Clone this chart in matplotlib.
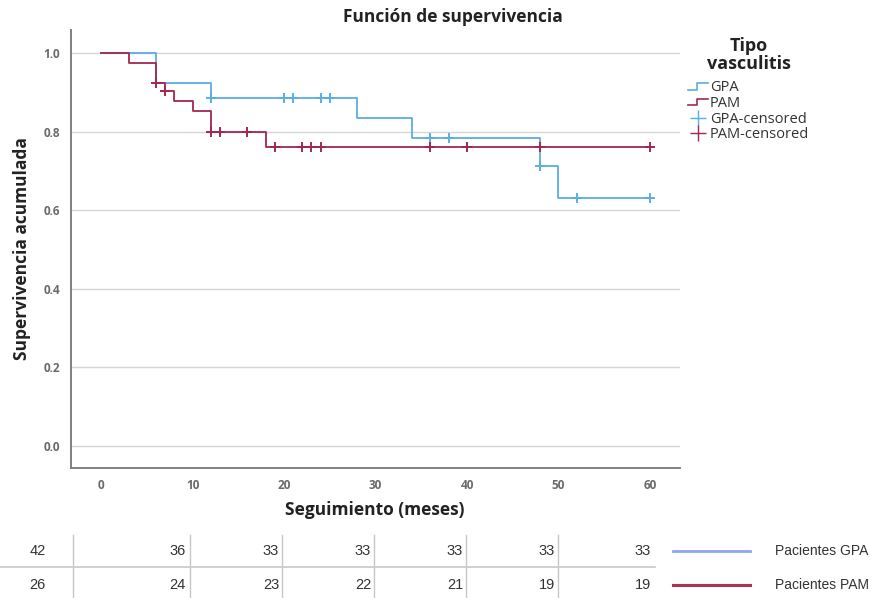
import numpy as np
import matplotlib
matplotlib.use("Agg")
import matplotlib.pyplot as plt
from matplotlib.lines import Line2D
from matplotlib.legend_handler import HandlerBase

# ---------------- data ----------------
gpa_times = [0, 6, 12, 28, 34, 48, 50, 60]
gpa_surv = [1.0, 0.925, 0.885, 0.834, 0.783, 0.712, 0.632, 0.632]
gpa_cens = [12, 20, 21, 24, 25, 36, 38, 48, 52, 60]

pam_times = [0, 3, 6, 7, 8, 10, 12, 18, 60]
pam_surv = [1.0, 0.976, 0.925, 0.903, 0.878, 0.852, 0.80, 0.762, 0.762]
pam_cens = [6, 7, 12, 13, 16, 19, 22, 23, 24, 36, 40, 48, 60]

table_cols = [0, 10, 20, 30, 40, 50, 60]
risk_gpa = [42, 36, 33, 33, 33, 33, 33]
risk_pam = [26, 24, 23, 22, 21, 19, 19]

series_names = ["GPA", "PAM"]
yticks = [0.0, 0.2, 0.4, 0.6, 0.8, 1.0]
xticks = [0, 10, 20, 30, 40, 50, 60]

# ---------------- style ----------------
BLUE = "#5aaee6"
RED = "#a3284f"
TBLUE = "#8ea6ea"
TRED = "#b0304f"
FONT = ["Open Sans", "DejaVu Sans"]
NARROW = ["Liberation Sans Narrow", "Liberation Sans", "DejaVu Sans"]
plt.rcParams["font.family"] = FONT


def step_value(times, surv, t):
    idx = np.searchsorted(times, t, side="right") - 1
    return surv[idx]


fig = plt.figure(figsize=(8.75, 5.98), dpi=100)
ax = fig.add_axes([71 / 875, 1 - 468 / 598, (680 - 71) / 875, (468 - 30) / 598])
ax.set_xlim(-3.3, 63.3)
ax.set_ylim(-0.056, 1.059)

for y in yticks:
    ax.axhline(y, color="#d6d6d6", lw=1.0, zorder=0)

for times, surv, cens, col in [(gpa_times, gpa_surv, gpa_cens, BLUE),
                                (pam_times, pam_surv, pam_cens, RED)]:
    ax.step(times, surv, where="post", color=col, lw=1.3, zorder=2)
    cy = [step_value(times, surv, t) for t in cens]
    ax.plot(cens, cy, linestyle="none", marker="+", color=col,
            markersize=6.5, markeredgewidth=1.4, zorder=3)

for s in ["top", "right"]:
    ax.spines[s].set_visible(False)
for s in ["left", "bottom"]:
    ax.spines[s].set_color("#808080")
    ax.spines[s].set_linewidth(1.4)

ax.set_xticks(xticks)
ax.set_yticks(yticks)
ax.set_yticklabels([f"{v:.1f}" for v in yticks])
ax.tick_params(length=0, labelsize=8.5, colors="#6a6a6a", pad=8)
for lab in ax.get_xticklabels() + ax.get_yticklabels():
    lab.set_fontweight("bold")

fig.text(453 / 875, 1 - 17 / 598, "Función de supervivencia", ha="center",
         va="center", fontsize=12.5, fontweight="bold", color="#222222")
ax.set_ylabel("Supervivencia acumulada", fontsize=12.5, fontweight="bold",
              color="#222222", labelpad=9)
fig.text(375 / 875, 1 - 510 / 598, "Seguimiento (meses)", ha="center",
         va="center", fontsize=12.5, fontweight="bold", color="#222222")


# legend with step icons
class StepHandler(HandlerBase):
    def create_artists(self, legend, orig_handle, xdescent, ydescent,
                       width, height, fontsize, trans):
        w = width
        h = height
        xs = [0 - xdescent, 0.45 * w, 0.45 * w, w * 0.95]
        ys = [0.15 * h, 0.15 * h, 0.75 * h, 0.75 * h]
        ln = Line2D(xs, ys, color=orig_handle.get_color(), lw=1.2,
                    transform=trans)
        return [ln]


h_gpa = Line2D([], [], color=BLUE)
h_pam = Line2D([], [], color=RED)
h_gc = Line2D([], [], color=BLUE, linestyle="none", marker="+",
              markersize=12, markeredgewidth=1.0)
h_pc = Line2D([], [], color=RED, linestyle="none", marker="+",
              markersize=12, markeredgewidth=1.0)
leg = fig.legend([h_gpa, h_pam, h_gc, h_pc],
                 [series_names[0], series_names[1],
                  series_names[0] + "-censored", series_names[1] + "-censored"],
                 handler_map={h_gpa: StepHandler(), h_pam: StepHandler()},
                 loc="upper left", bbox_to_anchor=(678 / 875, 1 - 27 / 598),
                 frameon=False, fontsize=10.5, title="Tipo\nvasculitis",
                 handlelength=1.4, handletextpad=0.1, labelspacing=0.05,
                 borderpad=0.2, alignment="center")
leg.get_title().set_fontweight("bold")
leg.get_title().set_fontsize(13)
leg.get_title().set_color("#222222")
leg.get_title().set_multialignment("center")
leg.get_title().set_linespacing(1.0)
leg._legend_box.sep = 5
for t in leg.get_texts():
    t.set_color("#333333")

# ---------------- number-at-risk table ----------------
row_y = [1 - 551 / 598, 1 - 585 / 598]
col_x_px = [46, 186, 279, 371, 463, 555, 651]
for i, (g, p) in enumerate(zip(risk_gpa, risk_pam)):
    fig.text(col_x_px[i] / 875, row_y[0], str(g), ha="right", va="center",
             fontsize=10.5, family=NARROW, color="#333333")
    fig.text(col_x_px[i] / 875, row_y[1], str(p), ha="right", va="center",
             fontsize=10.5, family=NARROW, color="#333333")

for xp in [73, 190, 282, 374, 466, 558]:
    fig.add_artist(Line2D([xp / 875, xp / 875], [1 - 535 / 598, 1 - 598 / 598],
                          color="#c8c8c8", lw=1.0))
fig.add_artist(Line2D([0, 655 / 875], [1 - 567 / 598, 1 - 567 / 598],
                      color="#c8c8c8", lw=1.2))

fig.add_artist(Line2D([673 / 875, 750 / 875], [row_y[0], row_y[0]],
                      color=TBLUE, lw=2))
fig.add_artist(Line2D([673 / 875, 750 / 875], [row_y[1], row_y[1]],
                      color=TRED, lw=2.2))
fig.text(775 / 875, row_y[0], "Pacientes " + series_names[0], ha="left",
         va="center", fontsize=10, family=NARROW, color="#333333")
fig.text(775 / 875, row_y[1], "Pacientes " + series_names[1], ha="left",
         va="center", fontsize=10, family=NARROW, color="#333333")

fig.savefig("out.png", dpi=100)
